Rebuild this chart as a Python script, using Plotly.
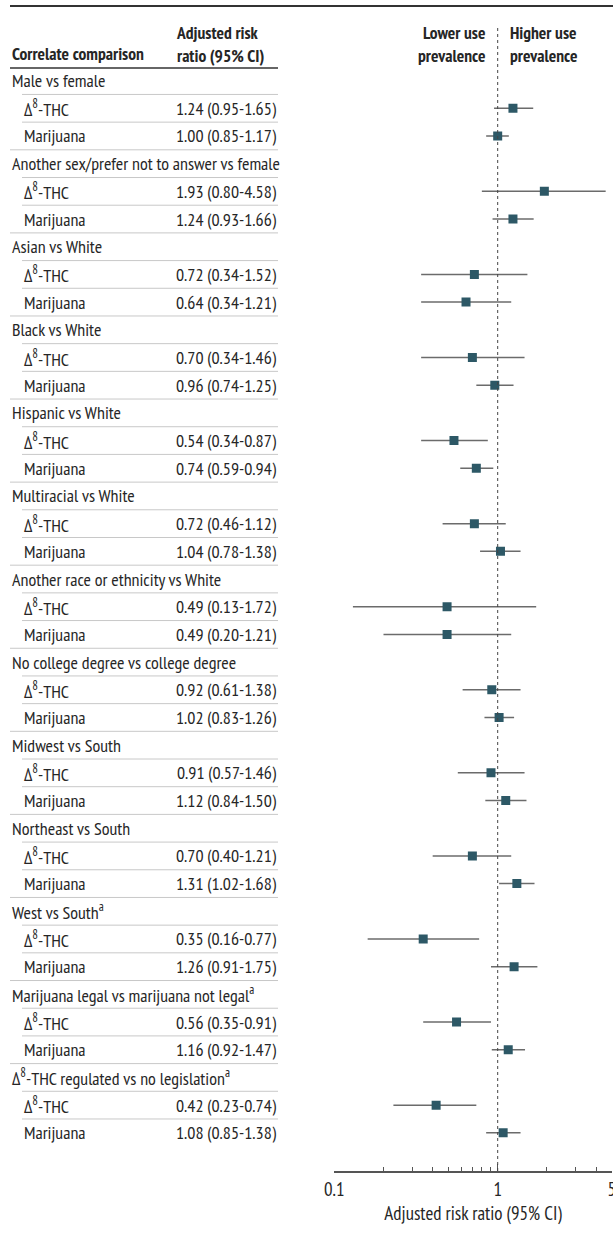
import plotly.graph_objects as go

# ---------------- data ----------------
categories = [
    "Male vs female",
    "Another sex/prefer not to answer vs female",
    "Asian vs White",
    "Black vs White",
    "Hispanic vs White",
    "Multiracial vs White",
    "Another race or ethnicity vs White",
    "No college degree vs college degree",
    "Midwest vs South",
    "Northeast vs South",
    "West vs South<sup>a</sup>",
    "Marijuana legal vs marijuana not legal<sup>a</sup>",
    "Δ<sup>8</sup>-THC regulated vs no legislation<sup>a</sup>",
]
products = ["Δ<sup>8</sup>-THC", "Marijuana"]

d8_est = [1.24, 1.93, 0.72, 0.70, 0.54, 0.72, 0.49, 0.92, 0.91, 0.70, 0.35, 0.56, 0.42]
d8_lo = [0.95, 0.80, 0.34, 0.34, 0.34, 0.46, 0.13, 0.61, 0.57, 0.40, 0.16, 0.35, 0.23]
d8_hi = [1.65, 4.58, 1.52, 1.46, 0.87, 1.12, 1.72, 1.38, 1.46, 1.21, 0.77, 0.91, 0.74]

mj_est = [1.00, 1.24, 0.64, 0.96, 0.74, 1.04, 0.49, 1.02, 1.12, 1.31, 1.26, 1.16, 1.08]
mj_lo = [0.85, 0.93, 0.34, 0.74, 0.59, 0.78, 0.20, 0.83, 0.84, 1.02, 0.91, 0.92, 0.85]
mj_hi = [1.17, 1.66, 1.21, 1.25, 0.94, 1.38, 1.21, 1.26, 1.50, 1.68, 1.75, 1.47, 1.38]

x_tickvals = [0.1, 1, 5]
x_ticktext = ["0.1", "1", "5"]
x_minor = [0.2, 0.3, 0.4, 0.5, 0.6, 0.7, 0.8, 0.9, 2, 3, 4]

# ---------------- layout constants ----------------
W, H = 613, 1238
FONT = "PT Sans Narrow, Archivo Narrow, Roboto Condensed, DejaVu Sans Condensed, sans-serif"
TXT = "#262626"
MARK = "#2d5866"
CI = "#6b6b6b"
FS = 18          # table rows
FS_HDR = 17.5    # bold header
FS_AX = 19       # axis ticks / title

ROW0 = 80.6      # pixel y of first row
STEP = 27.69     # pixel per row
AX_Y = 1171      # pixel y of x-axis line


def row_of(py):
    return (py - ROW0) / STEP


def px(x):
    return x / W


def py(y):
    return 1 - y / H


rows = []
pts_y, pts_x, pts_lo, pts_hi = [], [], [], []
r = 0
for i, cat in enumerate(categories):
    rows.append(("cat", cat, None))
    r += 1
    for name, e, lo, hi in ((products[0], d8_est[i], d8_lo[i], d8_hi[i]),
                            (products[1], mj_est[i], mj_lo[i], mj_hi[i])):
        rows.append(("sub", name, f"{e:.2f} ({lo:.2f}-{hi:.2f})"))
        pts_y.append(r)
        pts_x.append(e)
        pts_lo.append(e - lo)
        pts_hi.append(hi - e)
        r += 1

fig = go.Figure()
fig.add_trace(go.Scatter(
    x=pts_x, y=pts_y, mode="markers",
    marker=dict(symbol="square", size=9, color=MARK, line=dict(width=0)),
    error_x=dict(type="data", symmetric=False, array=pts_hi, arrayminus=pts_lo,
                 width=0, thickness=1.5, color=CI),
    showlegend=False, hoverinfo="skip",
))

annotations = []
shapes = []

for i, (kind, label, val) in enumerate(rows):
    if kind == "cat":
        annotations.append(dict(x=px(10), y=i, xref="paper", yref="y", text=label,
                                xanchor="left", yanchor="middle", showarrow=False,
                                font=dict(size=FS, color=TXT)))
    else:
        annotations.append(dict(x=px(22), y=i, xref="paper", yref="y", text=label,
                                xanchor="left", yanchor="middle", showarrow=False,
                                font=dict(size=FS, color=TXT)))
        annotations.append(dict(x=px(279), y=i, xref="paper", yref="y", text=val,
                                xanchor="right", yanchor="middle", showarrow=False,
                                font=dict(size=FS, color=TXT)))
    if i > 0:
        x0 = 10 if kind == "cat" else 22
        shapes.append(dict(type="line", xref="paper", yref="y", x0=px(x0), x1=px(278),
                           y0=i - 0.5, y1=i - 0.5, line=dict(color="#c8c8c8", width=1)))

hdr_font = dict(size=FS_HDR, color=TXT, family=FONT, weight="bold")
annotations += [
    dict(x=px(10), y=py(53), xref="paper", yref="paper", text="Correlate comparison",
         xanchor="left", yanchor="middle", showarrow=False, font=hdr_font),
    dict(x=px(174), y=py(44), xref="paper", yref="paper", text="Adjusted risk<br>ratio (95% CI)",
         xanchor="left", yanchor="middle", align="left", showarrow=False, font=hdr_font),
    dict(x=px(487), y=py(44), xref="paper", yref="paper", text="Lower use<br>prevalence",
         xanchor="right", yanchor="middle", align="right", showarrow=False, font=hdr_font),
    dict(x=px(508), y=py(44), xref="paper", yref="paper", text="Higher use<br>prevalence",
         xanchor="left", yanchor="middle", align="left", showarrow=False, font=hdr_font),
]

# rules
shapes.append(dict(type="line", xref="paper", yref="paper", x0=px(10), x1=1,
                   y0=py(6), y1=py(6), line=dict(color="#333333", width=2)))
shapes.append(dict(type="line", xref="paper", yref="paper", x0=px(10), x1=px(278),
                   y0=py(68), y1=py(68), line=dict(color="#333333", width=1.5)))
# reference line at 1
shapes.append(dict(type="line", xref="x", yref="paper", x0=1, x1=1,
                   y0=py(28), y1=py(AX_Y), line=dict(color="#444444", width=1, dash="dot")))

y_range = [row_of(AX_Y), row_of(0)]

fig.update_layout(
    width=W, height=H,
    margin=dict(l=0, r=0, t=0, b=0, autoexpand=False),
    paper_bgcolor="white", plot_bgcolor="white",
    font=dict(family=FONT, size=FS, color=TXT),
    xaxis=dict(
        type="log", range=[-1, 0.69897],
        domain=[334.3 / W, 611.9 / W],
        tickvals=x_tickvals, ticktext=x_ticktext,
        ticks="inside", ticklen=7, tickwidth=1.3, tickcolor="#555555",
        showline=True, linecolor="#555555", linewidth=1.5,
        showgrid=False, zeroline=False, automargin=False,
        ticklabeloverflow="allow",
        minor=dict(tickvals=x_minor, ticks="inside", ticklen=4, tickwidth=1.3,
                   tickcolor="#555555", showgrid=False),
        tickfont=dict(size=FS_AX, color=TXT),
        title=dict(text="Adjusted risk ratio (95% CI)", font=dict(size=FS_AX, color=TXT), standoff=7),
        anchor="y", fixedrange=True,
    ),
    yaxis=dict(
        range=y_range, domain=[(H - AX_Y) / H, 1], automargin=False,
        visible=False, showgrid=False, zeroline=False, fixedrange=True,
    ),
    annotations=annotations,
    shapes=shapes,
)

fig.write_html("out.html", config={"displayModeBar": False},
               post_script="document.body.style.margin='0';")
